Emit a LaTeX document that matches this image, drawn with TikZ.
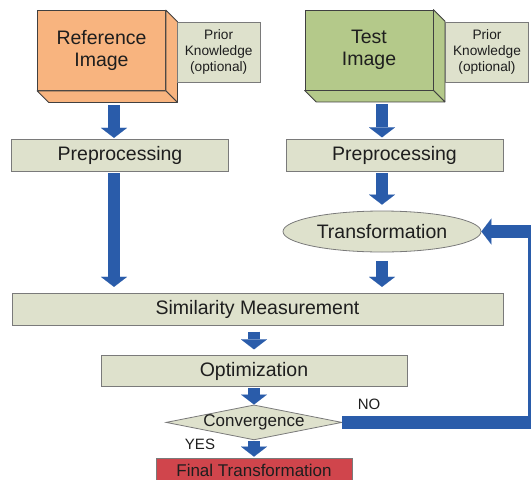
\documentclass[tikz,border=0pt]{standalone}
\usepackage{fontspec}
\setmainfont{Liberation Sans}
\usetikzlibrary{shapes.geometric,arrows.meta}

\definecolor{refface}{HTML}{F8B47F}
\definecolor{testface}{HTML}{B4C98A}
\definecolor{paleface}{HTML}{DEE1CC}
\definecolor{flowblue}{HTML}{2A5CAA}
\definecolor{finalred}{HTML}{D0454C}
\definecolor{edgegrey}{HTML}{7A7A7A}
\definecolor{cubeedge}{HTML}{404040}
\definecolor{inktext}{HTML}{1E1E1E}

\newcommand{\txtbig}{\fontsize{19.5}{22.5}\selectfont}
\newcommand{\txtmid}{\fontsize{17}{20}\selectfont}
\newcommand{\txtsmall}{\fontsize{13.7}{15.8}\selectfont}
\newcommand{\txttag}{\fontsize{15}{18}\selectfont}

\tikzset{
        imgface/.style={draw=cubeedge, line width=0.8pt, inner sep=0pt, minimum width=128pt, minimum height=80pt, align=center, font=\txtbig, text=inktext},
        cubeside/.style={draw=cubeedge, line width=0.8pt, line join=round},
        prior/.style={draw=edgegrey, line width=0.8pt, fill=paleface, inner sep=0pt, minimum width=83pt, minimum height=60pt, align=center, font=\txtsmall, text=inktext},
        stepbox/.style={draw=edgegrey, line width=0.8pt, fill=paleface, inner sep=0pt, minimum height=31.5pt, font=\txtbig, text=inktext},
        loopnode/.style={ellipse, draw=edgegrey, line width=0.8pt, fill=paleface, inner sep=0pt, minimum width=198pt, minimum height=41pt, font=\txtbig, text=inktext},
        decision/.style={diamond, draw=edgegrey, line width=0.8pt, fill=paleface, inner sep=0pt, minimum width=176pt, minimum height=35pt, font=\txtmid, text=inktext},
        finalbox/.style={draw=edgegrey, line width=0.8pt, fill=finalred, inner sep=0pt, minimum width=196pt, minimum height=24pt, font=\txtmid, text=inktext},
        answer/.style={font=\txttag, text=inktext},
        flow/.style={draw=flowblue, line width=12.5pt, line join=miter, -{Triangle[width=26pt,length=10pt,line width=0.01pt]}}
          }

\begin{document}
\begin{tikzpicture}[x=1pt, y=-1pt]
            \useasboundingbox (0,0) rectangle (531,480);
            \clip (0,0) rectangle (531,480);

            % input images as boxes with depth
            \node[imgface, fill=refface] (ref) at (101.5,50.5) {Reference\\Image};
            \node[imgface, fill=testface] (test) at (369,50) {Test\\Image};
            \foreach \img/\col in {ref/refface, test/testface} {
              \filldraw[cubeside, fill=\col] (\img.north east) -- ++(11.5,11.5) -- ([shift={(11.5,11.5)}]\img.south east) -- (\img.south east) -- cycle;
              \filldraw[cubeside, fill=\col] (\img.south west) -- ++(11.5,11.5) -- ([shift={(11.5,11.5)}]\img.south east) -- (\img.south east) -- cycle;
            }
            \node[prior] (prior1) at (218.7,52) {Prior\\Knowledge\\(optional)};
            \node[prior] (prior2) at (487,52) {Prior\\Knowledge\\(optional)};

            % processing chain
            \node[stepbox, minimum width=217pt] (pre1) at (120,155.5) {Preprocessing};
            \node[stepbox, minimum width=217pt] (pre2) at (394.5,155.5) {Preprocessing};
            \node[loopnode] (trans) at (382,231.5) {Transformation};
            \node[stepbox, minimum width=491pt] (sim) at (257.5,309.5) {Similarity Measurement};
            \node[stepbox, minimum width=306pt] (opt) at (254,371) {Optimization};
            \node[decision] (conv) at (254,422.4) {\makebox[0pt]{Convergence}};
            \node[finalbox] (final) at (254,470) {Final Transformation};
            \node[answer] (no) at (369,404) {NO};
            \node[answer] (yes) at (200,444) {YES};

            \coordinate (colL) at (114,0);
            \coordinate (colR) at (382,0);
            \coordinate (loop) at (534.5,0);

            % arrows
            \draw[flow, shorten <=14.5pt, shorten >=1.5pt] (colL |- ref.south) -- (colL |- pre1.north);
            \draw[flow, shorten <=14pt, shorten >=2pt] (colR |- test.south) -- (colR |- pre2.north);
            \draw[flow, shorten <=1.5pt, shorten >=6.5pt] (colL |- pre1.south) -- (colL |- sim.north);
            \draw[flow, shorten <=1.5pt, shorten >=6pt] (colR |- pre2.south) -- (trans.north);
            \draw[flow, shorten <=8.5pt, shorten >=6.5pt] (trans.south) -- (colR |- sim.north);
            \draw[flow, shorten <=6pt, shorten >=5.5pt] (opt |- sim.south) -- (opt.north);
            \draw[flow, shorten <=1.2pt] (opt.south) -- (conv.north);
            \draw[flow, shorten <=1pt, shorten >=1pt] (conv.south) -- (final.north);
            \draw[flow] (conv.east) -| (loop |- trans.east) -- (trans.east);
          \end{tikzpicture}
\end{document}
